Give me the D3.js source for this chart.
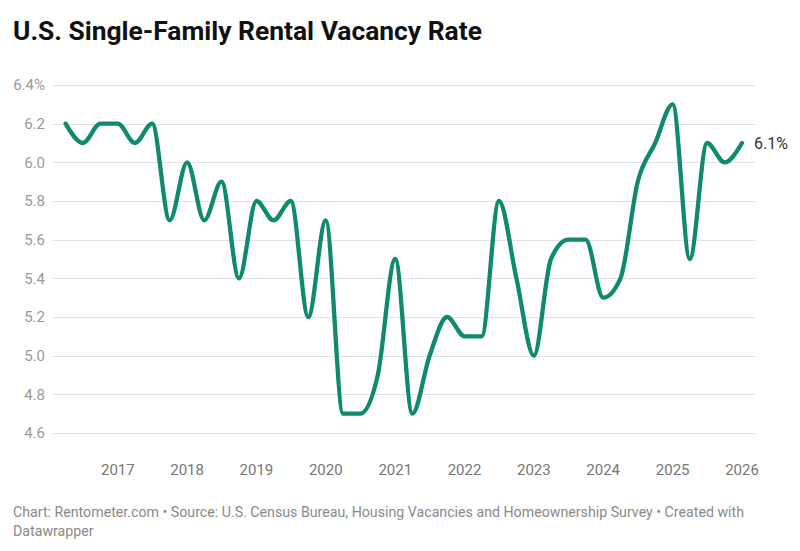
<!DOCTYPE html>
<html>
<head>
<meta charset="utf-8">
<script src="https://cdn.jsdelivr.net/npm/d3@7"></script>
<style>
  html, body { margin: 0; padding: 0; background: #fff; }
  svg { display: block; font-family: Roboto, "Noto Sans", sans-serif; }
</style>
</head>
<body>
<svg id="chart" width="800" height="551"></svg>
<script>
// Quarterly data, 2016 Q1 – 2025 Q4 (plotted at quarter end)
const quarters = [
  "2016Q1","2016Q2","2016Q3","2016Q4",
  "2017Q1","2017Q2","2017Q3","2017Q4",
  "2018Q1","2018Q2","2018Q3","2018Q4",
  "2019Q1","2019Q2","2019Q3","2019Q4",
  "2020Q1","2020Q2","2020Q3","2020Q4",
  "2021Q1","2021Q2","2021Q3","2021Q4",
  "2022Q1","2022Q2","2022Q3","2022Q4",
  "2023Q1","2023Q2","2023Q3","2023Q4",
  "2024Q1","2024Q2","2024Q3","2024Q4",
  "2025Q1","2025Q2","2025Q3","2025Q4"
];
const vacancyRate = [
  6.2, 6.1, 6.2, 6.2,
  6.1, 6.2, 5.7, 6.0,
  5.7, 5.9, 5.4, 5.8,
  5.7, 5.8, 5.2, 5.7,
  4.7, 4.7, 4.9, 5.5,
  4.7, 5.0, 5.2, 5.1,
  5.1, 5.8, 5.4, 5.0,
  5.5, 5.6, 5.6, 5.3,
  5.4, 5.9, 6.1, 6.3,
  5.5, 6.1, 6.0, 6.1
];
const yTicks = [4.6, 4.8, 5.0, 5.2, 5.4, 5.6, 5.8, 6.0, 6.2, 6.4];
const xTickYears = [2017, 2018, 2019, 2020, 2021, 2022, 2023, 2024, 2025, 2026];

const title = "U.S. Single-Family Rental Vacancy Rate";
const footerLines = [
  "Chart: Rentometer.com \u2022 Source: U.S. Census Bureau, Housing Vacancies and Homeownership Survey \u2022 Created with",
  "Datawrapper"
];

// quarter end date (first day of the following quarter)
const toDate = q => {
  const yr = +q.slice(0, 4), n = +q.slice(5);
  return new Date(yr, n * 3, 1);
};
const data = quarters.map((q, i) => ({ date: toDate(q), value: vacancyRate[i] }));

const svg = d3.select("#chart");

const x = d3.scaleTime()
  .domain(d3.extent(data, d => d.date))
  .range([65.6, 742]);
const y = d3.scaleLinear()
  .domain([4.6, 6.4])
  .range([433, 85]);

// Title
svg.append("text")
  .attr("x", 13).attr("y", 39.5)
  .attr("font-size", 26.4).attr("font-weight", 700)
  .attr("fill", "#111")
  .text(title);

// Gridlines
svg.append("g").selectAll("line").data(yTicks).join("line")
  .attr("x1", 53).attr("x2", 755)
  .attr("y1", d => Math.round(y(d)) + 0.5).attr("y2", d => Math.round(y(d)) + 0.5)
  .attr("stroke", "#e2e2e2").attr("stroke-width", 1);

// Y labels
svg.append("g").selectAll("text").data(yTicks).join("text")
  .attr("x", 45).attr("y", d => y(d))
  .attr("dy", "0.35em")
  .attr("text-anchor", "end")
  .attr("font-size", 15)
  .attr("fill", "#9a9a9a")
  .text((d, i) => d3.format(".1f")(d) + (i === yTicks.length - 1 ? "%" : ""));

// X labels
svg.append("g").selectAll("text").data(xTickYears).join("text")
  .attr("x", d => x(new Date(d, 0, 1)))
  .attr("y", 470).attr("dy", "0.35em")
  .attr("text-anchor", "middle")
  .attr("font-size", 15)
  .attr("fill", "#777")
  .text(d => d);

// Line
const line = d3.line()
  .x(d => x(d.date))
  .y(d => y(d.value))
  .curve(d3.curveMonotoneX);

svg.append("path")
  .datum(data)
  .attr("d", line)
  .attr("fill", "none")
  .attr("stroke", "#0f8a6c")
  .attr("stroke-width", 4.3)
  .attr("stroke-linejoin", "round")
  .attr("stroke-linecap", "round");

// End label
const last = data[data.length - 1];
svg.append("text")
  .attr("x", x(last.date) + 12).attr("y", y(last.value))
  .attr("dy", "0.35em")
  .attr("font-size", 16)
  .attr("fill", "#333")
  .text(d3.format(".1f")(last.value) + "%");

// Footer
svg.append("g").selectAll("text").data(footerLines).join("text")
  .attr("x", 13).attr("y", (d, i) => 517 + i * 19)
  .attr("font-size", 14.2)
  .attr("fill", "#8a8a8a")
  .text(d => d);
</script>
</body>
</html>
